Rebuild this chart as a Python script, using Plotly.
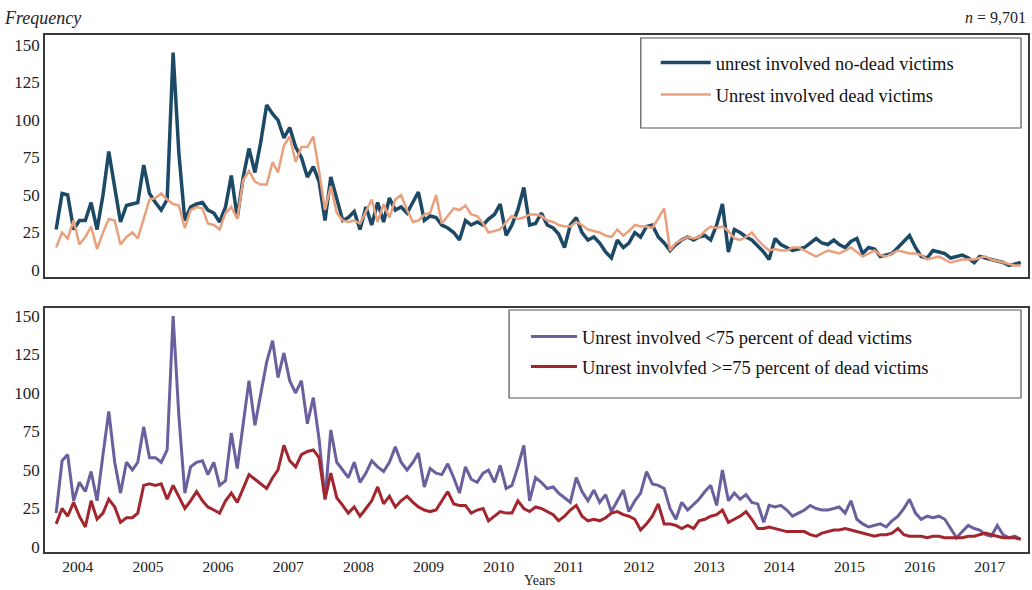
import pandas as pd
import plotly.graph_objects as go

# ---------------- data (monthly counts, Jan 2004 onward) ----------------
start_month = "2004-01-01"

no_dead = [27, 51, 50, 27, 33, 33, 45, 27, 50, 79,
           55, 32, 43, 44, 45, 70, 51, 45, 40, 47,
           145, 78, 33, 42, 44, 45, 40, 38, 32, 42,
           63, 35, 62, 81, 65, 85, 110, 104, 100, 88,
           95, 82, 75, 62, 69, 59, 33, 62, 47, 33,
           35, 39, 27, 42, 30, 45, 32, 48, 40, 42,
           38, 45, 52, 33, 36, 35, 30, 28, 25, 20,
           33, 30, 32, 30, 34, 37, 44, 23, 30, 40,
           55, 30, 31, 38, 30, 28, 24, 15, 30, 35,
           25, 20, 22, 18, 12, 8, 20, 15, 18, 25,
           22, 29, 30, 22, 18, 13, 17, 20, 22, 20,
           22, 23, 20, 30, 44, 12, 27, 25, 22, 20,
           16, 12, 7, 21, 17, 15, 13, 14, 15, 18,
           21, 18, 17, 20, 17, 15, 19, 21, 11, 15,
           14, 9, 10, 11, 15, 19, 23, 15, 9, 8,
           13, 12, 11, 8, 9, 10, 8, 5, 9, 8,
           7, 6, 5, 3, 4, 5]

dead = [15, 25, 21, 33, 17, 22, 29, 14, 25, 34,
        33, 17, 22, 25, 21, 35, 47, 48, 51, 47,
        44, 43, 28, 40, 42, 41, 31, 30, 27, 38,
        42, 34, 60, 66, 59, 57, 57, 72, 65, 83,
        89, 72, 82, 82, 89, 66, 40, 56, 38, 33,
        32, 33, 31, 39, 47, 32, 44, 35, 47, 50,
        40, 32, 33, 37, 38, 50, 31, 36, 41, 40,
        43, 37, 36, 31, 25, 26, 27, 32, 36, 34,
        35, 37, 37, 36, 33, 32, 30, 29, 29, 32,
        30, 27, 26, 25, 23, 22, 27, 23, 26, 30,
        29, 29, 28, 35, 41, 13, 18, 20, 22, 21,
        22, 26, 29, 28, 29, 26, 21, 20, 22, 25,
        20, 16, 13, 14, 13, 13, 15, 15, 13, 11,
        9, 11, 13, 12, 11, 13, 15, 12, 9, 11,
        13, 10, 9, 11, 13, 12, 11, 11, 10, 7,
        8, 9, 7, 5, 6, 7, 7, 7, 8, 9,
        7, 6, 5, 4, 3, 3]

lt75 = [22, 56, 60, 30, 42, 36, 49, 30, 60, 88,
        55, 35, 55, 50, 55, 78, 58, 58, 55, 63,
        150, 85, 35, 52, 55, 56, 47, 55, 40, 43,
        74, 51, 80, 108, 79, 100, 120, 134, 110, 126,
        108, 100, 108, 80, 97, 70, 31, 76, 55, 50,
        45, 55, 42, 48, 56, 52, 49, 55, 65, 55,
        50, 55, 61, 39, 51, 48, 47, 54, 45, 35,
        52, 44, 42, 48, 50, 42, 53, 38, 40, 52,
        66, 30, 45, 42, 38, 39, 35, 32, 29, 45,
        36, 30, 37, 29, 34, 23, 30, 37, 23, 30,
        35, 49, 41, 40, 38, 25, 18, 29, 24, 28,
        31, 36, 40, 27, 50, 30, 35, 31, 34, 29,
        28, 16, 27, 26, 27, 24, 20, 22, 24, 27,
        25, 24, 24, 25, 26, 22, 30, 18, 15, 13,
        14, 15, 13, 17, 20, 25, 31, 22, 18, 20,
        19, 20, 18, 12, 6, 10, 14, 12, 11, 8,
        7, 14, 8, 6, 7, 5]

ge75 = [15, 25, 20, 29, 20, 13, 30, 18, 22, 31,
        26, 16, 19, 19, 22, 40, 41, 40, 41, 31,
        40, 33, 25, 30, 36, 30, 26, 24, 22, 30,
        35, 29, 38, 47, 44, 41, 38, 45, 50, 66,
        56, 52, 60, 62, 63, 58, 31, 48, 32, 27,
        22, 26, 20, 25, 30, 39, 28, 33, 26, 30,
        33, 29, 26, 24, 23, 24, 30, 36, 28, 27,
        27, 22, 24, 25, 17, 20, 23, 22, 22, 30,
        25, 23, 26, 25, 23, 21, 17, 20, 24, 27,
        20, 17, 18, 17, 19, 22, 23, 21, 20, 18,
        11, 15, 20, 28, 15, 15, 14, 12, 14, 12,
        17, 18, 20, 21, 24, 16, 18, 20, 23, 18,
        12, 12, 13, 12, 11, 10, 10, 10, 10, 8,
        7, 9, 10, 11, 11, 12, 11, 10, 9, 8,
        7, 8, 8, 9, 12, 8, 7, 7, 7, 6,
        7, 7, 6, 6, 6, 6, 7, 7, 8, 9,
        8, 7, 6, 6, 6, 5]

year_labels = [str(y) for y in range(2004, 2018)]
y_tick_values = [0, 25, 50, 75, 100, 125, 150]

names_top = ["unrest involved no-dead victims", "Unrest involved dead victims"]
names_bottom = ["Unrest involved <75 percent of dead victims",
                "Unrest involvfed >=75 percent of dead victims"]

# ---------------- figure ----------------
months = pd.date_range(start_month, periods=len(no_dead), freq="MS")
SERIF = "Liberation Serif, Times New Roman, serif"

fig = go.Figure()
fig.add_trace(go.Scatter(x=months, y=no_dead, mode="lines", name=names_top[0],
                         line=dict(color="#1c4966", width=3.5),
                         xaxis="x", yaxis="y", legend="legend", legendgroup="a"))
fig.add_trace(go.Scatter(x=months, y=dead, mode="lines", name=names_top[1],
                         line=dict(color="#e9a07c", width=2.5),
                         xaxis="x", yaxis="y", legend="legend", legendgroup="b"))
fig.add_trace(go.Scatter(x=months, y=lt75, mode="lines", name=names_bottom[0],
                         line=dict(color="#6b5f9e", width=3),
                         xaxis="x2", yaxis="y2", legend="legend2", legendgroup="c"))
fig.add_trace(go.Scatter(x=months, y=ge75, mode="lines", name=names_bottom[1],
                         line=dict(color="#a3262e", width=3),
                         xaxis="x2", yaxis="y2", legend="legend2", legendgroup="d"))

tickvals = [f"{y}-04-23" for y in range(2004, 2018)]
xrange = ["2003-11-04", "2017-11-08"]

axis_common = dict(showline=True, mirror=True, linecolor="#3a3a3a", linewidth=1.5,
                   showgrid=False, zeroline=False, ticks="")

fig.update_layout(
    width=1032, height=590,
    margin=dict(l=45, r=2, t=35, b=38),
    paper_bgcolor="white", plot_bgcolor="white",
    font=dict(family=SERIF, color="#111"),
    xaxis=dict(domain=[0, 1], anchor="y", range=xrange, type="date",
               showticklabels=False, tickvals=tickvals, ticktext=year_labels,
               **axis_common),
    yaxis=dict(domain=[0.5319, 1], anchor="x", range=[-4.67, 156.7],
               tickvals=y_tick_values,
               tickfont=dict(family=SERIF, size=17, color="#222"), **axis_common),
    xaxis2=dict(domain=[0, 1], anchor="y2", range=xrange, type="date",
                tickvals=tickvals, ticktext=year_labels, matches="x",
                tickfont=dict(family=SERIF, size=15.5, color="#222"), **axis_common),
    yaxis2=dict(domain=[0, 0.4720], anchor="x2", range=[-3.25, 155.2],
                tickvals=y_tick_values,
                tickfont=dict(family=SERIF, size=17, color="#222"), **axis_common),
    legend=dict(x=0.6213, y=0.9826, xanchor="left", yanchor="top",
                bgcolor="rgba(0,0,0,0)", borderwidth=0, itemwidth=50,
                tracegroupgap=5, traceorder="grouped",
                font=dict(family=SERIF, size=18.5, color="#111")),
    legend2=dict(x=0.4893, y=0.4526, xanchor="left", yanchor="top",
                 bgcolor="rgba(0,0,0,0)", borderwidth=0, itemwidth=46,
                 tracegroupgap=3, traceorder="grouped",
                 font=dict(family=SERIF, size=18.5, color="#111")),
    showlegend=True,
)

# legend frames
fig.add_shape(type="rect", xref="paper", yref="paper",
              x0=0.6061, x1=0.9929, y0=0.8201, y1=0.9942,
              line=dict(color="#555", width=1.2), fillcolor="rgba(0,0,0,0)")
fig.add_shape(type="rect", xref="paper", yref="paper",
              x0=0.4721, x1=0.9929, y0=0.2979, y1=0.4681,
              line=dict(color="#555", width=1.2), fillcolor="rgba(0,0,0,0)")

fig.add_annotation(text="<i>Frequency</i>", xref="paper", yref="paper",
                   x=-0.044, y=1.033, xanchor="left", yanchor="middle",
                   showarrow=False, font=dict(family=SERIF, size=18, color="#222"))
fig.add_annotation(text="<i>n</i> = 9,701", xref="paper", yref="paper",
                   x=1.0, y=1.033, xanchor="right", yanchor="middle",
                   showarrow=False, font=dict(family=SERIF, size=16, color="#222"))
fig.add_annotation(text="Years", xref="paper", yref="paper",
                   x=0.503, y=-0.0735, xanchor="center", yanchor="bottom",
                   showarrow=False, font=dict(family=SERIF, size=14, color="#222"))

fig.write_html("out.html")
